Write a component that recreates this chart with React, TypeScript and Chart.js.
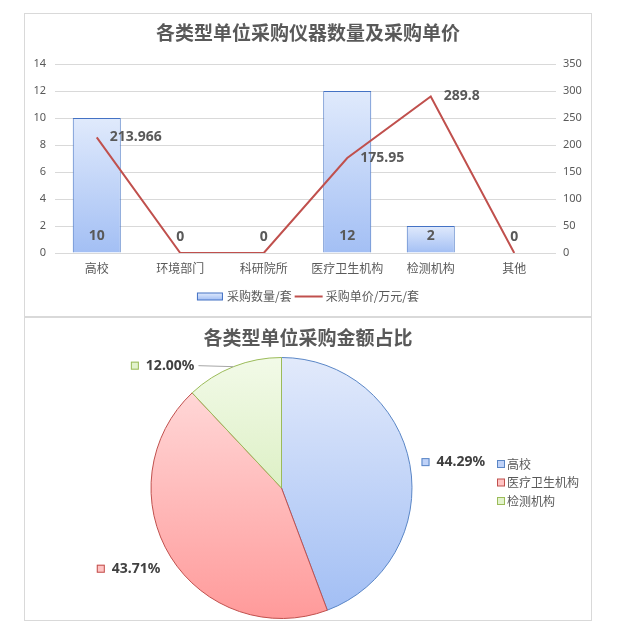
import { useEffect, useRef } from 'react';
import { Chart, registerables } from 'chart.js';

Chart.register(...registerables);

// ---------- data ----------
const categories = ['高校', '环境部门', '科研院所', '医疗卫生机构', '检测机构', '其他'];
const quantities = [10, 0, 0, 12, 2, 0];
const unitPrices = [213.966, 0, 0, 175.95, 289.8, 0];
const quantityMax = 14;
const quantityStep = 2;
const priceMax = 350;
const priceStep = 50;

const pieLabels = ['高校', '医疗卫生机构', '检测机构'];
const pieShares = [44.29, 43.71, 12.0];

const barTitle = '各类型单位采购仪器数量及采购单价';
const pieTitle = '各类型单位采购金额占比';
const barSeriesName = '采购数量/套';
const lineSeriesName = '采购单价/万元/套';

// ---------- styles ----------
const NUM_FONT = "'Noto Sans', 'Noto Sans CJK SC', sans-serif";
const CJK_FONT = "'Noto Sans CJK SC', 'Noto Sans', sans-serif";
const TEXT = '#595959';
const GRID = '#d9d9d9';

const sliceTop = ['#e2eafb', '#ffe0e0', '#f2fae8'];
const sliceBottom = ['#a0bdf4', '#ff9a9a', '#c9e6a4'];
const sliceBorder = ['#5a86c6', '#c0504d', '#9bbb59'];
const sliceMarker = ['#bfd2f8', '#ffc4c4', '#e2f3cc'];

// label layout relative to each slice's outer-edge midpoint
const pieLabelLayout = [
  { dx: 11.6, dy: -2.6, align: 'left', leader: false },
  { dx: -10.3, dy: 11.8, align: 'right', leader: false },
  { dx: -39, dy: -1, align: 'right', leader: true },
];

const topPlugin = {
  id: 'topDecor',
  afterDatasetsDraw(chart: any) {
    const ctx = chart.ctx;
    ctx.save();
    // bar labels
    ctx.font = `bold 14px ${NUM_FONT}`;
    ctx.fillStyle = TEXT;
    ctx.textBaseline = 'middle';
    ctx.textAlign = 'center';
    const barMeta = chart.getDatasetMeta(0);
    barMeta.data.forEach((el: any, i: number) => {
      ctx.fillText(String(quantities[i]), el.x, el.base - 16);
    });
    // line labels
    ctx.textAlign = 'left';
    const lineMeta = chart.getDatasetMeta(1);
    lineMeta.data.forEach((el: any, i: number) => {
      if (unitPrices[i]) ctx.fillText(String(unitPrices[i]), el.x + 13, el.y);
    });
    ctx.restore();
  },
  afterDraw(chart: any) {
    const ctx = chart.ctx;
    const w = chart.width;
    ctx.save();
    ctx.fillStyle = TEXT;
    ctx.textBaseline = 'middle';
    ctx.textAlign = 'center';
    ctx.font = `bold 19px ${CJK_FONT}`;
    ctx.fillText(barTitle, w / 2, 19);

    // legend
    ctx.font = `12px ${CJK_FONT}`;
    const w1 = ctx.measureText(barSeriesName).width;
    const w2 = ctx.measureText(lineSeriesName).width;
    const total = 26 + 4 + w1 + 3 + 28 + 3 + w2;
    let x = w / 2 - total / 2;
    const y = 282.5;
    const g = ctx.createLinearGradient(0, y - 3.5, 0, y + 3.5);
    g.addColorStop(0, '#e0eafc');
    g.addColorStop(1, '#a3bff4');
    ctx.fillStyle = g;
    ctx.fillRect(x, y - 3.5, 26, 7);
    ctx.strokeStyle = '#4472c4';
    ctx.lineWidth = 1;
    ctx.strokeRect(x + 0.5, y - 3.5, 25, 7);
    x += 30;
    ctx.fillStyle = TEXT;
    ctx.textAlign = 'left';
    ctx.fillText(barSeriesName, x, y);
    x += w1 + 3;
    ctx.strokeStyle = '#c0504d';
    ctx.lineWidth = 2;
    ctx.beginPath();
    ctx.moveTo(x, y);
    ctx.lineTo(x + 28, y);
    ctx.stroke();
    x += 31;
    ctx.fillText(lineSeriesName, x, y);
    ctx.restore();
  },
};

const piePlugin = {
  id: 'pieDecor',
  afterDatasetsDraw(chart: any) {
    const ctx = chart.ctx;
    const meta = chart.getDatasetMeta(0);
    ctx.save();
    ctx.font = `bold 14px ${NUM_FONT}`;
    ctx.textBaseline = 'middle';
    meta.data.forEach((arc: any, i: number) => {
      const p = arc.getProps(['x', 'y', 'startAngle', 'endAngle', 'outerRadius'], true);
      const mid = (p.startAngle + p.endAngle) / 2;
      const ex = p.x + Math.cos(mid) * p.outerRadius;
      const ey = p.y + Math.sin(mid) * p.outerRadius;
      const L = pieLabelLayout[i];
      const ax = ex + L.dx;
      const ay = ey + L.dy;
      const text = pieShares[i].toFixed(2) + '%';
      const tw = ctx.measureText(text).width;
      let markerX: number;
      let textX: number;
      if (L.align === 'left') {
        markerX = ax;
        textX = ax + 15;
      } else {
        textX = ax - tw;
        markerX = textX - 15;
      }
      if (L.leader) {
        ctx.strokeStyle = '#a6a6a6';
        ctx.lineWidth = 1;
        ctx.beginPath();
        ctx.moveTo(ax + 4, ay);
        ctx.lineTo(ex, ey);
        ctx.stroke();
      }
      ctx.fillStyle = sliceMarker[i];
      ctx.fillRect(markerX, ay - 4, 8, 8);
      ctx.strokeStyle = sliceBorder[i];
      ctx.lineWidth = 1;
      ctx.strokeRect(markerX + 0.5, ay - 3.5, 7, 7);
      ctx.fillStyle = '#404040';
      ctx.textAlign = 'left';
      ctx.fillText(text, textX, ay);
    });
    ctx.restore();
  },
  afterDraw(chart: any) {
    const ctx = chart.ctx;
    ctx.save();
    ctx.fillStyle = TEXT;
    ctx.textBaseline = 'middle';
    ctx.textAlign = 'center';
    ctx.font = `bold 19px ${CJK_FONT}`;
    ctx.fillText(pieTitle, chart.width / 2, 20);
    // legend
    ctx.font = `12px ${CJK_FONT}`;
    ctx.textAlign = 'left';
    pieLabels.forEach((lab, i) => {
      const y = 146 + i * 18.5;
      ctx.fillStyle = sliceMarker[i];
      ctx.fillRect(472, y - 3.5, 7, 7);
      ctx.strokeStyle = sliceBorder[i];
      ctx.lineWidth = 1;
      ctx.strokeRect(472.5, y - 3.5, 7, 7);
      ctx.fillStyle = TEXT;
      ctx.fillText(lab, 482, y);
    });
    ctx.restore();
  },
};

export default function App() {
  const topRef = useRef<HTMLCanvasElement>(null);
  const pieRef = useRef<HTMLCanvasElement>(null);

  useEffect(() => {
    const c1 = new Chart(topRef.current as HTMLCanvasElement, {
      type: 'bar',
      data: {
        labels: categories,
        datasets: [
          {
            type: 'bar',
            label: barSeriesName,
            data: quantities,
            yAxisID: 'y',
            order: 2,
            backgroundColor: (c: any) => {
              const chart = c.chart;
              if (!chart.chartArea || c.type !== 'data') return '#c5d6f7';
              const ys = chart.scales.y;
              const top = ys.getPixelForValue(c.raw);
              const base = ys.getPixelForValue(0);
              if (base - top < 1) return '#a4c0f4';
              const g = chart.ctx.createLinearGradient(0, top, 0, base);
              g.addColorStop(0, '#e0eafc');
              g.addColorStop(1, '#a3bff4');
              return g;
            },
            borderColor: '#4472c4',
            borderWidth: 1,
            barPercentage: 0.575,
            categoryPercentage: 1,
          } as any,
          {
            type: 'line',
            label: lineSeriesName,
            data: unitPrices,
            yAxisID: 'y1',
            order: 1,
            borderColor: '#c0504d',
            borderWidth: 2,
            pointRadius: 0,
            tension: 0,
            fill: false,
          } as any,
        ],
      },
      options: {
        responsive: false,
        animation: false,
        layout: { padding: { top: 50, left: 0, right: 0, bottom: 0 } },
        plugins: {
          legend: { display: false },
          tooltip: { enabled: false },
          title: { display: false },
        },
        scales: {
          x: {
            grid: { display: false, drawTicks: false },
            border: { display: false },
            ticks: { color: TEXT, font: { family: CJK_FONT, size: 12 }, padding: 8, maxRotation: 0, autoSkip: false },
            afterFit(s: any) {
              s.height = 63;
            },
          },
          y: {
            position: 'left',
            min: 0,
            max: quantityMax,
            ticks: { stepSize: quantityStep, color: TEXT, font: { family: NUM_FONT, size: 11 }, padding: 9 },
            grid: { color: GRID, drawTicks: false },
            border: { display: false },
            afterFit(s: any) {
              s.width = 30;
            },
          },
          y1: {
            position: 'right',
            min: 0,
            max: priceMax,
            ticks: { stepSize: priceStep, color: TEXT, font: { family: NUM_FONT, size: 11 }, padding: 7 },
            grid: { display: false, drawTicks: false },
            border: { display: false },
            afterFit(s: any) {
              s.width = 35;
            },
          },
        },
      } as any,
      plugins: [topPlugin],
    });

    const c2 = new Chart(pieRef.current as HTMLCanvasElement, {
      type: 'pie',
      data: {
        labels: pieLabels,
        datasets: [
          {
            data: pieShares,
            backgroundColor: (c: any) => {
              const chart = c.chart;
              const area = chart.chartArea;
              const i = c.dataIndex ?? 0;
              if (!area) return sliceMarker[i];
              const g = chart.ctx.createLinearGradient(0, area.top, 0, area.bottom);
              g.addColorStop(0, sliceTop[i]);
              g.addColorStop(1, sliceBottom[i]);
              return g;
            },
            borderColor: sliceBorder,
            borderWidth: 1,
          } as any,
        ],
      },
      options: {
        responsive: false,
        animation: false,
        layout: { padding: { top: 39, bottom: 1, left: 125.5, right: 178.5 } },
        plugins: { legend: { display: false }, tooltip: { enabled: false } },
      } as any,
      plugins: [piePlugin],
    });

    return () => {
      c1.destroy();
      c2.destroy();
    };
  }, []);

  return (
    <div style={{ position: 'absolute', left: 0, top: 0, width: 617, height: 628, background: '#fff' }}>
      <div
        style={{
          position: 'absolute',
          left: 24,
          top: 13,
          width: 568,
          height: 304,
          border: `1px solid ${GRID}`,
          boxSizing: 'border-box',
        }}
      />
      <div
        style={{
          position: 'absolute',
          left: 24,
          top: 317,
          width: 568,
          height: 304,
          border: `1px solid ${GRID}`,
          boxSizing: 'border-box',
        }}
      />
      <canvas ref={topRef} width={566} height={302} style={{ position: 'absolute', left: 25, top: 14 }} />
      <canvas ref={pieRef} width={566} height={302} style={{ position: 'absolute', left: 25, top: 318 }} />
    </div>
  );
}
